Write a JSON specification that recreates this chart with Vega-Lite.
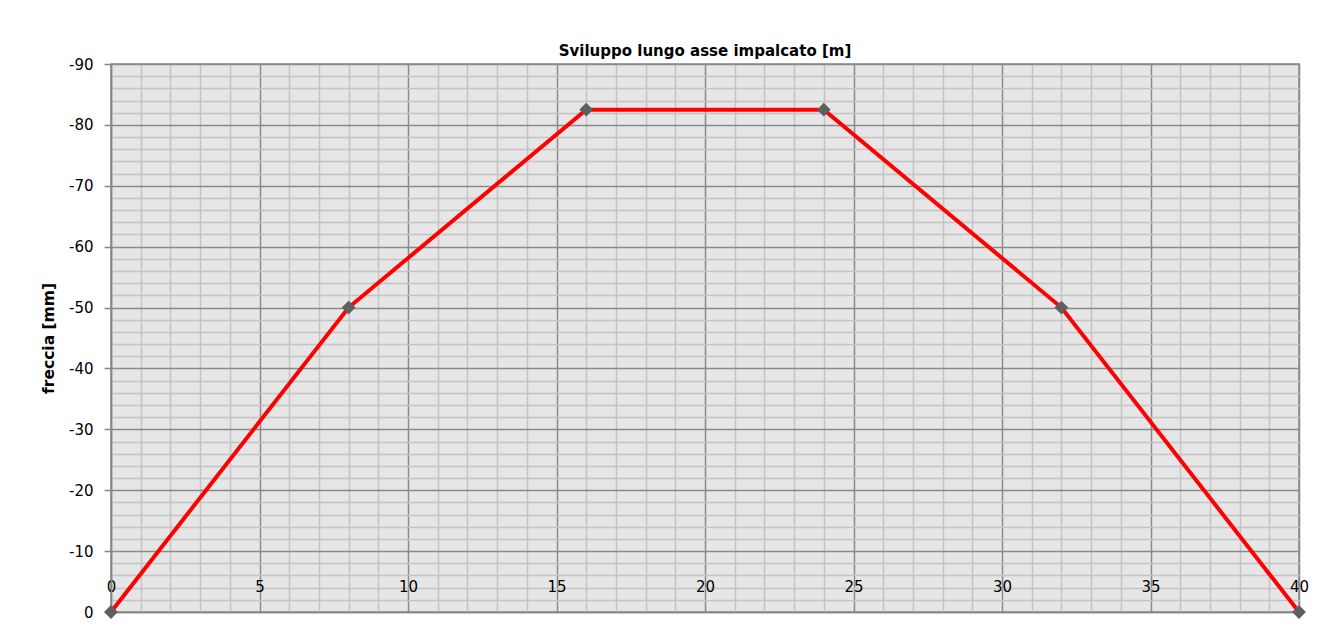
{
  "$schema": "https://vega.github.io/schema/vega-lite/v6.json",
  "autosize": {"type": "none"},
  "width": 1188,
  "height": 548,
  "padding": {"left": 111, "top": 64, "right": 39, "bottom": 17},
  "background": "white",
  "title": {
    "text": "Sviluppo lungo asse impalcato [m]",
    "font": "DejaVu Sans",
    "fontSize": 15,
    "fontWeight": "bold",
    "color": "#000000",
    "anchor": "middle",
    "offset": -2
  },
  "config": {
    "view": {"fill": "#e6e6e6", "stroke": "#888888", "strokeWidth": 1.5},
    "axis": {"labelFont": "DejaVu Sans", "labelColor": "#000000", "titleFont": "DejaVu Sans"}
  },
  "data": {
    "values": [
      {"x": 0, "y": 0},
      {"x": 8, "y": -50},
      {"x": 16, "y": -82.5},
      {"x": 24, "y": -82.5},
      {"x": 32, "y": -50},
      {"x": 40, "y": 0}
    ]
  },
  "encoding": {
    "x": {
      "field": "x",
      "type": "quantitative",
      "scale": {"domain": [0, 40], "nice": false, "zero": false},
      "axis": {
        "orient": "bottom",
        "title": null,
        "values": [0,1,2,3,4,5,6,7,8,9,10,11,12,13,14,15,16,17,18,19,20,21,22,23,24,25,26,27,28,29,30,31,32,33,34,35,36,37,38,39,40],
        "labelExpr": "datum.value % 5 === 0 ? '' + datum.value : ''",
        "labelFontSize": 15,
        "labelPadding": -33,
        "labelFlush": false,
        "labelOverlap": false,
        "ticks": false,
        "domain": true,
        "domainColor": "#888888",
        "domainWidth": 1.5,
        "grid": true,
        "gridColor": {"condition": {"test": "datum.value % 5 === 0", "value": "#8a8a8a"}, "value": "#c4c4c4"},
        "gridWidth": 1.5,
        "gridOpacity": 1
      }
    },
    "y": {
      "field": "y",
      "type": "quantitative",
      "scale": {"domain": [-90, 0], "nice": false, "zero": false, "reverse": true},
      "axis": {
        "title": "freccia [mm]",
        "titleFontSize": 15.5,
        "titleFontWeight": "bold",
        "titleColor": "#000000",
        "titlePadding": 12,
        "values": [-90,-88,-86,-84,-82,-80,-78,-76,-74,-72,-70,-68,-66,-64,-62,-60,-58,-56,-54,-52,-50,-48,-46,-44,-42,-40,-38,-36,-34,-32,-30,-28,-26,-24,-22,-20,-18,-16,-14,-12,-10,-8,-6,-4,-2,0],
        "labelExpr": "datum.value % 10 === 0 ? '' + datum.value : ''",
        "labelFontSize": 15,
        "labelPadding": 11,
        "labelOverlap": false,
        "ticks": true,
        "tickSize": 7,
        "tickWidth": 1.5,
        "tickColor": {"condition": {"test": "datum.value % 10 === 0", "value": "#888888"}, "value": "transparent"},
        "domainColor": "#888888",
        "domainWidth": 1.5,
        "grid": true,
        "gridColor": {"condition": {"test": "datum.value % 10 === 0", "value": "#8a8a8a"}, "value": "#c4c4c4"},
        "gridWidth": 1.5,
        "gridOpacity": 1
      }
    }
  },
  "layer": [
    {"mark": {"type": "line", "color": "#ff0000", "strokeWidth": 4}},
    {"mark": {"type": "point", "shape": "diamond", "filled": true, "color": "#5f5f5f", "size": 190, "opacity": 1}}
  ]
}
